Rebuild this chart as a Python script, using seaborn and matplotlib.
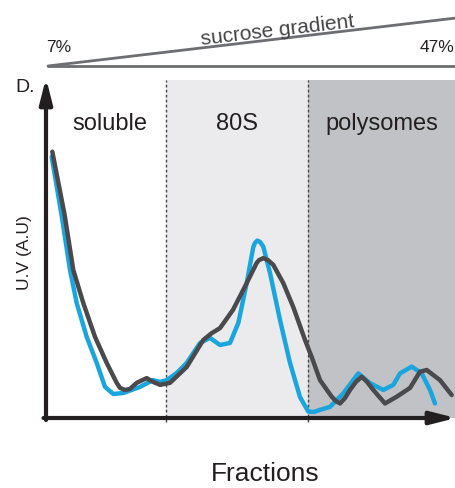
import pandas as pd
import matplotlib.pyplot as plt
import seaborn as sns

# fraction positions (x) and UV absorbance (relative height)
gray_x = [0.63, 1.85, 2.73, 3.73, 4.90, 6.07, 7.07, 7.40, 7.90, 8.40, 9.07, 10.07, 10.70,
          11.40, 12.40, 14.07, 15.73, 16.57, 17.40, 18.70, 20.07, 21.07, 21.30, 21.73,
          22.20, 22.73, 23.73, 24.73, 25.90, 26.60, 27.40, 28.57, 29.00, 29.40, 29.90,
          30.40, 31.00, 31.57, 32.10, 32.73, 33.90, 35.07, 36.40, 37.40, 38.07, 39.40, 40.57]
gray_y = [0.788, 0.603, 0.438, 0.340, 0.240, 0.163, 0.104, 0.089, 0.083, 0.086, 0.104,
          0.118, 0.107, 0.098, 0.104, 0.151, 0.231, 0.251, 0.266, 0.320, 0.399, 0.459,
          0.467, 0.473, 0.467, 0.453, 0.399, 0.328, 0.231, 0.178, 0.112, 0.063, 0.050,
          0.043, 0.059, 0.083, 0.107, 0.122, 0.107, 0.083, 0.043, 0.063, 0.089, 0.137,
          0.142, 0.112, 0.068]

blue_x = [0.57, 1.58, 2.40, 3.07, 4.07, 5.07, 5.90, 6.73, 7.73, 9.40, 10.70, 11.40, 12.07,
          13.07, 14.07, 15.40, 16.40, 17.40, 18.40, 19.23, 20.07, 20.73, 20.90, 21.13,
          21.40, 21.73, 22.40, 23.40, 24.40, 25.40, 26.23, 26.80, 27.40, 28.40, 29.73,
          31.23, 32.40, 33.73, 34.73, 35.40, 36.57, 37.57, 38.40, 38.90]
blue_y = [0.773, 0.596, 0.438, 0.340, 0.240, 0.163, 0.092, 0.071, 0.074, 0.092, 0.112,
          0.107, 0.112, 0.133, 0.163, 0.222, 0.237, 0.216, 0.222, 0.281, 0.399, 0.506,
          0.518, 0.525, 0.521, 0.507, 0.429, 0.290, 0.163, 0.062, 0.019, 0.018, 0.024,
          0.033, 0.073, 0.132, 0.103, 0.083, 0.098, 0.132, 0.152, 0.132, 0.083, 0.043]

regions = ['soluble', '80S', 'polysomes']
region_edges = [0, 12.0, 26.2, 41.0]
region_colors = ['#ffffff', '#ebebed', '#c1c2c5']
gradient_labels = ['7%', '47%']

ink = '#231f20'

sns.set_style('white')
plt.rcParams['font.family'] = ['Liberation Sans', 'DejaVu Sans']

fig = plt.figure(figsize=(4.56, 4.88), dpi=100)
ax = fig.add_axes([46 / 456, 70 / 488, 410 / 456, 338 / 488])

# fraction regions
for i, name in enumerate(regions):
    ax.axvspan(region_edges[i], region_edges[i + 1], color=region_colors[i], lw=0, zorder=0)
    ax.text((region_edges[i] + region_edges[i + 1]) / 2 + (0.4 if i == 0 else 0), 0.87, name,
            ha='center', va='center', fontsize=17, color=ink)
for edge in region_edges[1:3]:
    ax.axvline(edge, ymin=-0.012, ymax=1, ls=(0, (2, 1.6)), lw=1, color='#444444',
               clip_on=False, zorder=1)

df = pd.concat([
    pd.DataFrame({'fraction': gray_x, 'uv': gray_y, 'sample': 'gray'}),
    pd.DataFrame({'fraction': blue_x, 'uv': blue_y, 'sample': 'blue'}),
])
sns.lineplot(data=df, x='fraction', y='uv', hue='sample', hue_order=['blue', 'gray'],
             palette={'blue': '#1ba5de', 'gray': '#4a4a4c'}, sort=False, lw=3.2,
             legend=False, ax=ax, zorder=3,
             solid_joinstyle='round', solid_capstyle='round')

ax.set_xlim(0, 41)
ax.set_ylim(0, 1)
ax.set_xticks([])
ax.set_yticks([])
for s in ax.spines.values():
    s.set_visible(False)
ax.set_xlabel('')
ax.set_ylabel('')

# axis arrows
arrow = dict(arrowstyle='-|>,head_length=1.5,head_width=0.38', lw=3, color=ink,
             shrinkA=0, shrinkB=0, mutation_scale=10)
ax.annotate('', xy=(0, 1.006), xytext=(0, -0.006), xycoords='axes fraction',
            arrowprops=arrow, annotation_clip=False)
ax.annotate('', xy=(1.0, 0), xytext=(-0.006, 0), xycoords='axes fraction',
            arrowprops=arrow, annotation_clip=False)

# sucrose gradient wedge (figure pixel fractions)
W, H = 456, 488
fig.add_artist(plt.Line2D([48 / W, 456 / W], [1 - 66 / H, 1 - 66 / H], color='#6d6e71', lw=2))
fig.add_artist(plt.Line2D([48 / W, 456 / W], [1 - 66 / H, 1 - 18 / H], color='#6d6e71', lw=2))
fig.text(278 / W, 1 - 31 / H, 'sucrose gradient', rotation=6.7, ha='center', va='center',
         fontsize=15, color='#444446', rotation_mode='anchor')
fig.text(59 / W, 1 - 47 / H, gradient_labels[0], ha='center', va='center', fontsize=12.5, color=ink)
fig.text(437 / W, 1 - 47 / H, gradient_labels[1], ha='center', va='center', fontsize=12.5, color=ink)

fig.text(25 / W, 1 - 88 / H, 'D.', ha='center', va='center', fontsize=14, color=ink)
fig.text(25 / W, 1 - 253 / H, 'U.V (A.U)', rotation=90, ha='center', va='center',
         fontsize=12.5, color=ink)
fig.text(265 / W, 1 - 474 / H, 'Fractions', ha='center', va='center', fontsize=19, color=ink)

fig.savefig('out.png', dpi=100)
